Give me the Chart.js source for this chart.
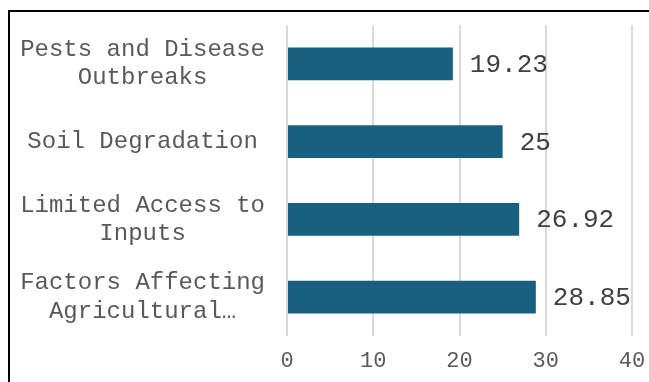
<!DOCTYPE html>
<html>
<head>
<meta charset="utf-8">
<script src="https://cdn.jsdelivr.net/npm/chart.js@4"></script>
<style>
  html, body { margin: 0; padding: 0; background: #ffffff; }
  #wrap { position: relative; width: 649px; height: 382px; overflow: hidden; }
  #frame {
    position: absolute; left: 8px; top: 10px; width: 700px; height: 400px;
    border-left: 2px solid #000; border-top: 2px solid #000; box-sizing: border-box;
  }
  canvas { position: absolute; left: 0; top: 0; }
</style>
</head>
<body>
<div id="wrap">
  <div id="frame"></div>
  <canvas id="chart" width="649" height="382"></canvas>
</div>
<script>
// Categories (multi-line labels) and their percentage values
const categories = [
  ["Pests and Disease", "Outbreaks"],
  ["Soil Degradation"],
  ["Limited Access to", "Inputs"],
  ["Factors Affecting", "Agricultural\u2026"]
];
const values = [19.23, 25, 26.92, 28.85];
const xTicks = [0, 10, 20, 30, 40];

const MONO = "'Liberation Mono', 'Courier New', monospace";

// Writes each bar's value just past the end of the bar
const valueLabels = {
  id: 'valueLabels',
  afterDatasetsDraw(chart) {
    const ctx = chart.ctx;
    const meta = chart.getDatasetMeta(0);
    ctx.save();
    ctx.font = "26px " + MONO;
    ctx.fillStyle = '#404040';
    ctx.textAlign = 'left';
    ctx.textBaseline = 'middle';
    meta.data.forEach((bar, i) => {
      ctx.fillText(String(values[i]), bar.x + 17, bar.y + 1);
    });
    ctx.restore();
  }
};

new Chart(document.getElementById('chart'), {
  type: 'bar',
  data: {
    labels: categories,
    datasets: [{
      data: values,
      backgroundColor: '#185f80',
      borderWidth: 0,
      barPercentage: 0.424,
      categoryPercentage: 1
    }]
  },
  options: {
    indexAxis: 'y',
    responsive: false,
    animation: false,
    layout: { padding: { left: 0, right: 17, top: 25, bottom: 0 } },
    plugins: { legend: { display: false }, tooltip: { enabled: false } },
    scales: {
      x: {
        min: 0,
        max: 40,
        afterBuildTicks(scale) { scale.ticks = xTicks.map(v => ({ value: v })); },
        afterFit(scale) {
          scale.height = 46;
          scale.paddingLeft = 0;
          scale.paddingRight = 0;
        },
        grid: { color: '#d9d9d9', lineWidth: 2, drawTicks: false },
        border: { display: false },
        ticks: {
          padding: 12,
          color: '#595959',
          font: { family: MONO, size: 22 }
        }
      },
      y: {
        afterFit(scale) {
          scale.width = 287;
          scale.paddingTop = 0;
          scale.paddingBottom = 0;
        },
        grid: { display: false, drawTicks: false },
        border: { display: false },
        ticks: {
          crossAlign: 'center',
          padding: 22,
          color: '#595959',
          font: { family: MONO, size: 24, lineHeight: 1.17 }
        }
      }
    }
  },
  plugins: [valueLabels]
});
</script>
</body>
</html>
